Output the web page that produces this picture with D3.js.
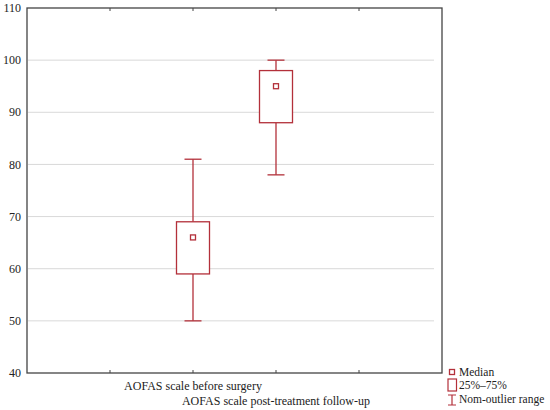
<!DOCTYPE html>
<html>
<head>
<meta charset="utf-8">
<script src="https://cdnjs.cloudflare.com/ajax/libs/d3/7.8.5/d3.min.js"></script>
<style>
  body { margin: 0; background: #fff; }
  text { font-family: "Liberation Serif", "DejaVu Serif", serif; fill: #222; }
</style>
</head>
<body>
<svg id="chart" width="550" height="410"></svg>
<script>
// box plot values
let categories = ['AOFAS scale before surgery', 'AOFAS scale post-treatment follow-up']
let positions  = [2, 3]
let whiskerLow = [50, 78]
let q1         = [59, 88]
let median     = [66, 95]
let q3         = [69, 98]
let whiskerHigh = [81, 100]
let yTicks = [40, 50, 60, 70, 80, 90, 100, 110]
let xTicks = [1, 2, 3, 4]
let legendLabels = ['Median', '25%\u201375%', 'Nom-outlier range']

let width = 550
let height = 410
let margin = { top: 8, right: 108, bottom: 37, left: 27 }
let red = '#b3303a'

let svg = d3.select('#chart')

let x = d3.scaleLinear()
  .domain([0, 5])
  .range([margin.left, width - margin.right])

let y = d3.scaleLinear()
  .domain([40, 110])
  .range([height - margin.bottom, margin.top])

// grid lines
svg.append('g')
  .selectAll('line')
  .data(yTicks.filter(t => t > 40 && t < 110))
  .join('line')
  .attr('x1', x(0) + 1)
  .attr('x2', x(5) - 8)
  .attr('y1', d => y(d))
  .attr('y2', d => y(d))
  .attr('stroke', '#d9d9d9')
  .attr('stroke-width', 1)

// y labels
svg.append('g')
  .selectAll('text')
  .data(yTicks)
  .join('text')
  .attr('x', x(0) - 6)
  .attr('y', d => y(d))
  .attr('dy', '0.35em')
  .attr('text-anchor', 'end')
  .attr('font-size', 12)
  .text(d => d)

// frame
svg.append('rect')
  .attr('x', x(0))
  .attr('y', y(110))
  .attr('width', x(5) - x(0))
  .attr('height', y(40) - y(110))
  .attr('fill', 'none')
  .attr('stroke', '#444')
  .attr('stroke-width', 1.3)

// inward ticks top and bottom
svg.append('g')
  .selectAll('line')
  .data(xTicks)
  .join('line')
  .attr('x1', d => x(d))
  .attr('x2', d => x(d))
  .attr('y1', y(40))
  .attr('y2', y(40) - 3)
  .attr('stroke', '#444')
svg.append('g')
  .selectAll('line')
  .data(xTicks)
  .join('line')
  .attr('x1', d => x(d))
  .attr('x2', d => x(d))
  .attr('y1', y(110))
  .attr('y2', y(110) + 3)
  .attr('stroke', '#444')

// x labels, staggered
svg.append('g')
  .selectAll('text')
  .data(categories)
  .join('text')
  .attr('x', (d, i) => x(positions[i]))
  .attr('y', (d, i) => y(40) + 17 + i * 15)
  .attr('text-anchor', 'middle')
  .attr('font-size', 12)
  .text(d => d)

// boxes
let boxW = 33
let capW = 17
let boxes = svg.append('g')
  .selectAll('g')
  .data(categories)
  .join('g')
  .attr('fill', 'none')
  .attr('stroke', red)
  .attr('stroke-width', 1.3)

boxes.append('line')
  .attr('x1', (d, i) => x(positions[i]))
  .attr('x2', (d, i) => x(positions[i]))
  .attr('y1', (d, i) => y(whiskerHigh[i]))
  .attr('y2', (d, i) => y(q3[i]))
boxes.append('line')
  .attr('x1', (d, i) => x(positions[i]))
  .attr('x2', (d, i) => x(positions[i]))
  .attr('y1', (d, i) => y(q1[i]))
  .attr('y2', (d, i) => y(whiskerLow[i]))
boxes.append('line')
  .attr('x1', (d, i) => x(positions[i]) - capW / 2)
  .attr('x2', (d, i) => x(positions[i]) + capW / 2)
  .attr('y1', (d, i) => y(whiskerHigh[i]))
  .attr('y2', (d, i) => y(whiskerHigh[i]))
boxes.append('line')
  .attr('x1', (d, i) => x(positions[i]) - capW / 2)
  .attr('x2', (d, i) => x(positions[i]) + capW / 2)
  .attr('y1', (d, i) => y(whiskerLow[i]))
  .attr('y2', (d, i) => y(whiskerLow[i]))
boxes.append('rect')
  .attr('x', (d, i) => x(positions[i]) - boxW / 2)
  .attr('y', (d, i) => y(q3[i]))
  .attr('width', boxW)
  .attr('height', (d, i) => y(q1[i]) - y(q3[i]))
  .attr('fill', '#fff')
boxes.append('rect')
  .attr('x', (d, i) => x(positions[i]) - 2.5)
  .attr('y', (d, i) => y(median[i]) - 2.5)
  .attr('width', 5)
  .attr('height', 5)

// legend
let lx = 452
let legend = svg.append('g')
legend.append('rect')
  .attr('x', lx - 2.5).attr('y', 372 - 2.5)
  .attr('width', 5).attr('height', 5)
  .attr('fill', 'none').attr('stroke', red).attr('stroke-width', 1.3)
legend.append('rect')
  .attr('x', lx - 4).attr('y', 379)
  .attr('width', 8.5).attr('height', 12)
  .attr('fill', 'none').attr('stroke', red).attr('stroke-width', 1.2)
legend.append('path')
  .attr('d', `M${lx - 4},395 H${lx + 4} M${lx},395 V405 M${lx - 4},405 H${lx + 4}`)
  .attr('fill', 'none').attr('stroke', red).attr('stroke-width', 1.2)
legend.selectAll('text')
  .data(legendLabels)
  .join('text')
  .attr('x', lx + 7)
  .attr('y', (d, i) => [376, 389, 403][i])
  .attr('font-size', 11.5)
  .text(d => d)
</script>
</body>
</html>
